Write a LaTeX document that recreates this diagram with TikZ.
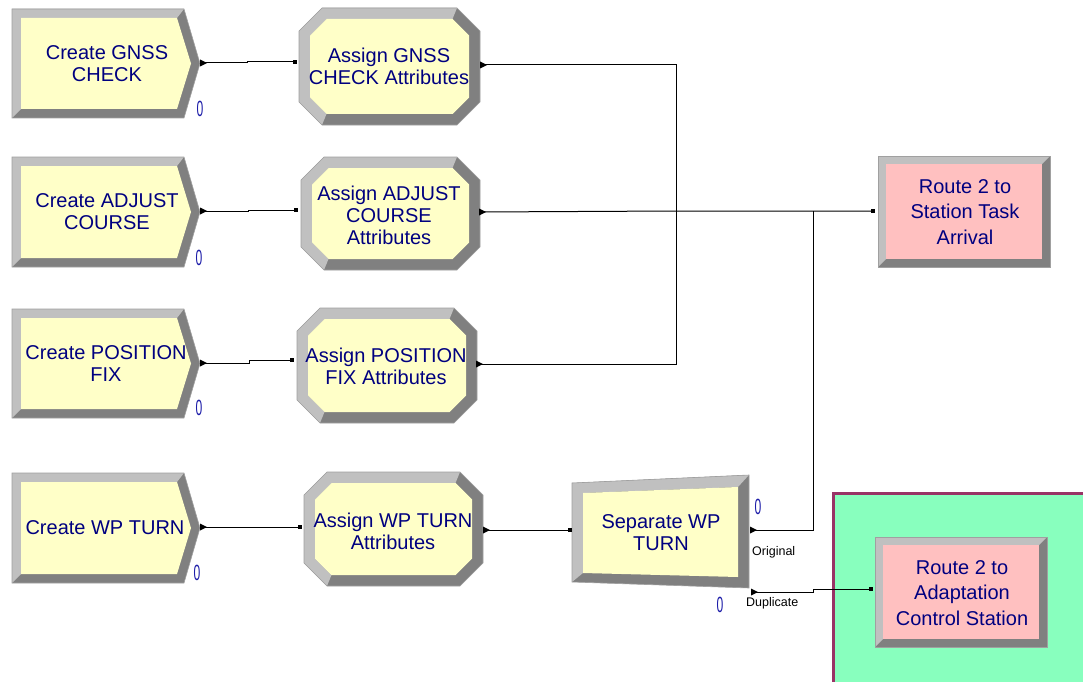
\documentclass[tikz,border=0pt]{standalone}
\usepackage{fontspec}
\setmainfont{Liberation Sans}
\definecolor{bevL}{HTML}{C0C0C0}
\definecolor{bevD}{HTML}{808080}
\definecolor{edgeC}{HTML}{A0A0A0}
\definecolor{modY}{HTML}{FFFFC8}
\definecolor{modP}{HTML}{FFC0C0}
\definecolor{txtC}{HTML}{000080}
\definecolor{cntC}{HTML}{1C1CA8}
\definecolor{mint}{HTML}{88FFBE}
\definecolor{frameC}{HTML}{993366}
\tikzset{
  lbl/.style={text=txtC, font=\fontsize{20}{22}\selectfont, align=center, inner sep=0pt},
  rlbl/.style={text=txtC, font=\fontsize{20}{25.5}\selectfont, align=center, inner sep=0pt},
  cntlbl/.style={text=cntC, font=\fontsize{22}{24}\selectfont, inner sep=0pt},
  conn/.style={draw=black, line width=1pt},
  portlbl/.style={font=\fontsize{12.5}{14}\selectfont, inner sep=0pt, anchor=west},
  outline/.style={draw=edgeC, line width=0.6pt},
}
% out marker and in marker
\newcommand\outmark[1]{\fill (#1) ++(0,-3.5) -- ++(7,3.5) -- ++(-7,3.5) -- cycle;}
\newcommand\inmark[1]{\fill (#1) ++(-1.8,-1.8) rectangle ++(3.6,3.6);}
\newcommand\cnt{\scalebox{0.55}[1]{0}}
% create block: #1 T, #2 B
\newcommand\createblk[2]{%
  \pgfmathsetmacro\Mid{(#1+#2)/2}%
  \fill[bevD] (12,#1) -- (184,#1) -- (200,\Mid) -- (184,#2) -- (12,#2) -- cycle;
  \fill[bevL] (12,#1) -- (184,#1) -- (177,#1+9) -- (21,#1+9) -- (21,#2-9) -- (12,#2) -- cycle;
  \fill[modY] (21,#1+9) -- (177,#1+9) -- (191,\Mid) -- (177,#2-9) -- (21,#2-9) -- cycle;
  \draw[outline] (12,#1) -- (184,#1) -- (200,\Mid) -- (184,#2) -- (12,#2) -- cycle;
}
% assign block: #1 L, #2 T, #3 R, #4 B
\newcommand\assignblk[4]{%
  \def\cc{23}\def\bb{11}\def\dd{27.5}%
  \fill[bevD] (#1+\cc,#2) -- (#3-\cc,#2) -- (#3,#2+\cc) -- (#3,#4-\cc) -- (#3-\cc,#4) -- (#1+\cc,#4) -- (#1,#4-\cc) -- (#1,#2+\cc) -- cycle;
  \fill[bevL] (#1+\cc,#4) -- (#1,#4-\cc) -- (#1,#2+\cc) -- (#1+\cc,#2) -- (#3-\cc,#2) -- (#3-\dd,#2+\bb) -- (#1+\dd,#2+\bb) -- (#1+\bb,#2+\dd) -- (#1+\bb,#4-\dd) -- (#1+\dd,#4-\bb) -- cycle;
  \fill[modY] (#1+\dd,#2+\bb) -- (#3-\dd,#2+\bb) -- (#3-\bb,#2+\dd) -- (#3-\bb,#4-\dd) -- (#3-\dd,#4-\bb) -- (#1+\dd,#4-\bb) -- (#1+\bb,#4-\dd) -- (#1+\bb,#2+\dd) -- cycle;
  \draw[outline] (#1+\cc,#2) -- (#3-\cc,#2) -- (#3,#2+\cc) -- (#3,#4-\cc) -- (#3-\cc,#4) -- (#1+\cc,#4) -- (#1,#4-\cc) -- (#1,#2+\cc) -- cycle;
}
% route block: #1 L, #2 T, #3 R, #4 B
\newcommand\routeblk[4]{%
  \fill[bevD] (#1,#2) rectangle (#3,#4);
  \fill[bevL] (#1,#4) -- (#1,#2) -- (#3,#2) -- (#3-8,#2+8) -- (#1+8,#2+8) -- (#1+8,#4-8) -- cycle;
  \fill[modP] (#1+8,#2+8) rectangle (#3-8,#4-8);
  \draw[outline] (#1,#2) rectangle (#3,#4);
}
\begin{document}
\begin{tikzpicture}[x=1pt,y=-1pt]
\useasboundingbox (0,0) rectangle (1083,682);
% background submodel area
\fill[mint] (833,493) rectangle (1083,682);
\draw[frameC, line width=3pt] (1083,493) -- (833,493) -- (833,682);

% ---- blocks ----
\createblk{9}{118}
\createblk{157}{267}
\createblk{309}{418}
\createblk{473}{583}
\assignblk{299}{8}{480}{125}
\assignblk{301}{157}{480}{270}
\assignblk{297}{308}{477}{423}
\assignblk{304}{472}{483}{586}
% separate
\fill[bevD] (572,483) -- (749,475) -- (749,588) -- (572,582) -- cycle;
\fill[bevL] (572,582) -- (572,483) -- (749,475) -- (738,487) -- (583,493) -- (583,573) -- cycle;
\fill[modY] (583,493) -- (738,487) -- (738,577) -- (583,573) -- cycle;
\draw[outline] (572,483) -- (749,475) -- (749,588) -- (572,582) -- cycle;
\routeblk{878}{156}{1050}{267}
\routeblk{875}{537}{1047}{647}

% ---- labels ----
\node[lbl] (cg) at (107,63.5) {Create GNSS\\CHECK};
\node[lbl] (ca) at (107,212) {Create ADJUST\\COURSE};
\node[lbl] (cp) at (106,364) {Create POSITION\\FIX};
\node[lbl] (cw) at (105,528) {Create WP TURN};
\node[lbl] (ag) at (389,66.5) {Assign GNSS\\CHECK Attributes};
\node[lbl] (aa) at (389,215) {Assign ADJUST\\COURSE\\Attributes};
\node[lbl] (ap) at (386,366) {Assign POSITION\\FIX Attributes};
\node[lbl] (aw) at (393,531) {Assign WP TURN\\Attributes};
\node[lbl] (sep) at (661,532.5) {Separate WP\\TURN};
\node[rlbl] (rs) at (965,212) {Route 2 to\\Station Task\\Arrival};
\node[rlbl] (ra) at (962,593) {Route 2 to\\Adaptation\\Control Station};

% counters
\node[cntlbl] (n1) at (200,109) {\cnt};
\node[cntlbl] (n2) at (199,258) {\cnt};
\node[cntlbl] (n3) at (199,408) {\cnt};
\node[cntlbl] (n4) at (197,573) {\cnt};
\node[cntlbl] (n5) at (758,507) {\cnt};
\node[cntlbl] (n6) at (720,605) {\cnt};
\node[portlbl] (lo) at (752,552) {Original};
\node[portlbl] (ld) at (746,603) {Duplicate};

% ---- ports ----
\coordinate (cgo) at (200,63);
\coordinate (cao) at (200,211);
\coordinate (cpo) at (200,363);
\coordinate (cwo) at (200,527);
\coordinate (agi) at (295,62);
\coordinate (aai) at (296,210);
\coordinate (api) at (292,360);
\coordinate (awi) at (300,527);
\coordinate (ago) at (480,65);
\coordinate (aao) at (479,212);
\coordinate (apo) at (476,364);
\coordinate (awo) at (483,530);
\coordinate (sei) at (570,530);
\coordinate (seo) at (750,530);
\coordinate (sed) at (751,592);
\coordinate (rsi) at (873,211);
\coordinate (rai) at (871,589);
\coordinate (m2) at (676,211);
\coordinate (m3) at (813,211);

% ---- connectors ----
\draw[conn] (cgo) -- ++(47,0) |- (agi);
\draw[conn] (cao) -- ++(48,0) |- (aai);
\draw[conn] (cpo) -- ++(49,0) |- (api);
\draw[conn] (cwo) -- (awi);
\draw[conn] (ago) -| (m2);
\draw[conn] (aao) -- (m2) -- (rsi);
\draw[conn] (apo) -| (m2);
\draw[conn] (awo) -- (sei);
\draw[conn] (seo) -| (m3);
\draw[conn] (sed) -- ++(62,0) |- (rai);

% ---- markers ----
\outmark{cgo}\outmark{cao}\outmark{cpo}\outmark{cwo}
\outmark{ago}\outmark{aao}\outmark{apo}\outmark{awo}
\outmark{seo}\outmark{sed}
\inmark{agi}\inmark{aai}\inmark{api}\inmark{awi}
\inmark{sei}\inmark{rsi}\inmark{rai}
\end{tikzpicture}
\end{document}
